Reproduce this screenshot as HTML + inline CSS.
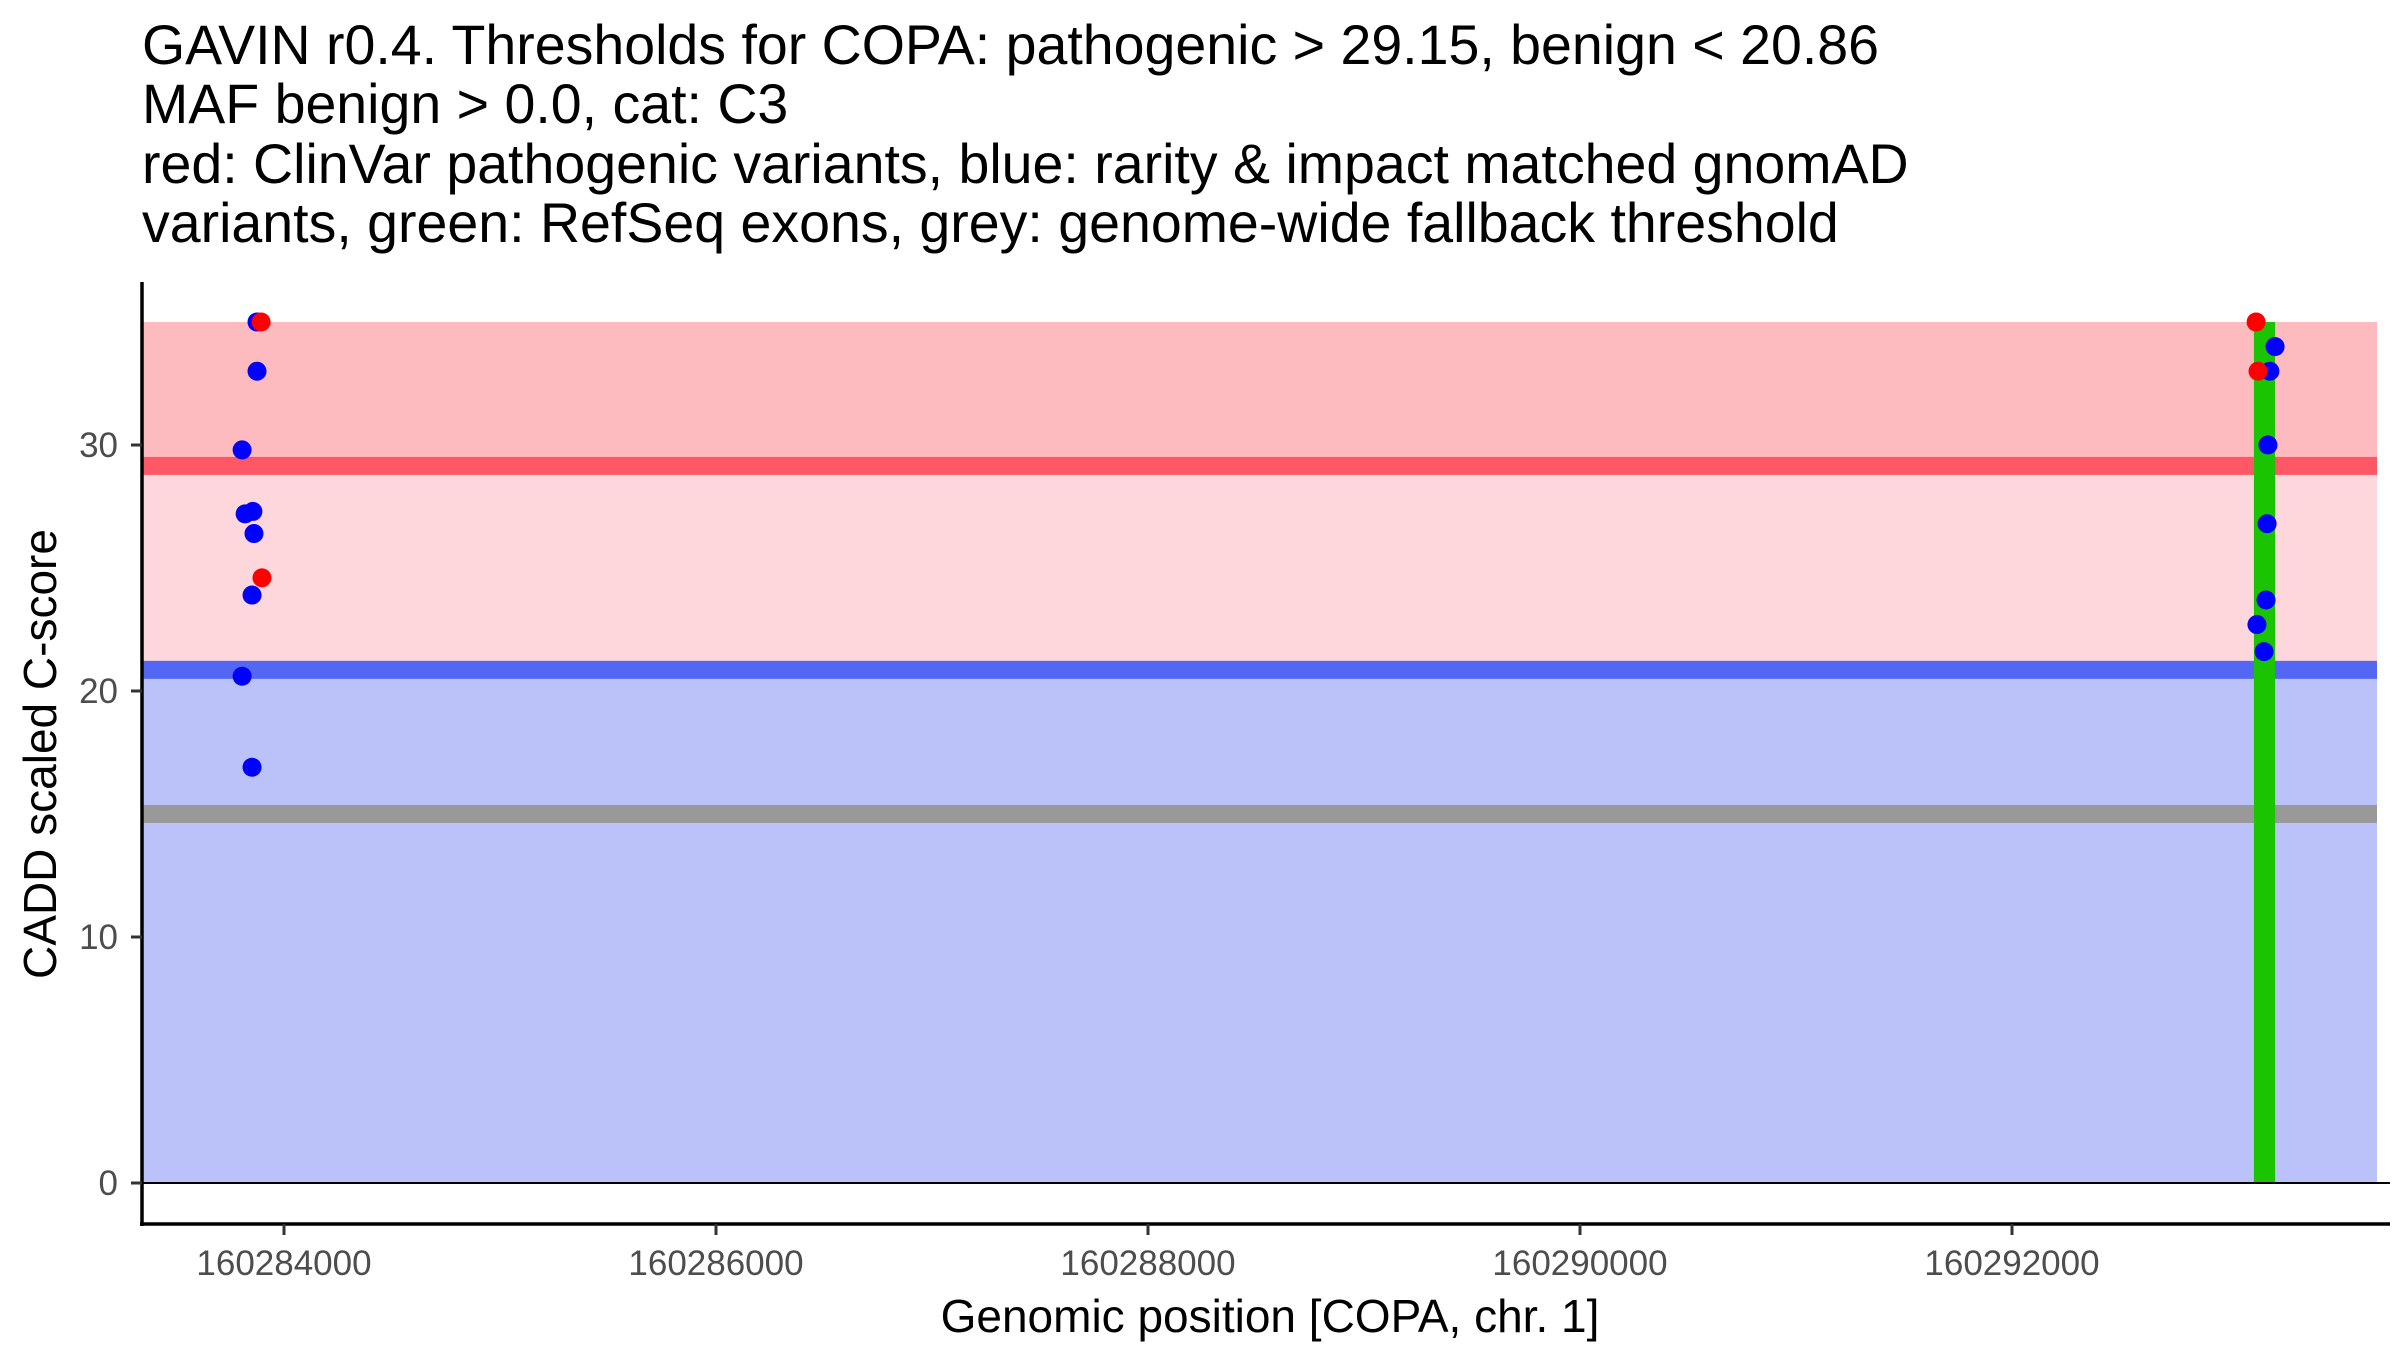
<!DOCTYPE html>
<html><head><meta charset="utf-8"><style>
html,body{margin:0;padding:0;background:#fff;}
svg{display:block;font-family:"Liberation Sans",Arial,sans-serif;}
</style></head><body>
<svg id="chart" width="2400" height="1350" viewBox="0 0 2400 1350" xmlns="http://www.w3.org/2000/svg">
<g font-size="55.5" fill="#000">
<text x="142" y="64">GAVIN r0.4. Thresholds for COPA: pathogenic &gt; 29.15, benign &lt; 20.86</text>
<text x="142" y="123">MAF benign &gt; 0.0, cat: C3</text>
<text x="142" y="183">red: ClinVar pathogenic variants, blue: rarity &amp; impact matched gnomAD</text>
<text x="142" y="242">variants, green: RefSeq exons, grey: genome-wide fallback threshold</text>
</g>
<g id="plot"></g>
</svg>
<script>
const xTicks = [160284000, 160286000, 160288000, 160290000, 160292000];
const yTicks = [0, 10, 20, 30];
const pathogenicThreshold = 29.15;
const benignThreshold = 20.86;
const fallbackThreshold = 15;
const maxScore = 35;
const exonStart = 160293120;
const exonEnd = 160293218;
const blueX = [160283875,160283875,160283806,160283820,160283856,160283861,160283852,160283806,160283852,160293218,160293194,160293185,160293181,160293176,160293134,160293167];
const blueY = [35,33,29.8,27.2,27.3,26.4,23.9,20.6,16.9,34,33,30,26.8,23.7,22.7,21.6];
const redX = [160283894,160283898,160293130,160293139];
const redY = [35,24.6,35,33];

const NS = "http://www.w3.org/2000/svg";
const X0 = 142, X1 = 2390, Y0 = 1183, PXU = 24.6;
function sx(g){ return 284 + (g - 160284000) * 432 / 2000; }
function sy(v){ return Y0 - v * PXU; }
const plot = document.getElementById('plot');
function mk(tag, attrs){ const e = document.createElementNS(NS, tag); for (const k in attrs) e.setAttribute(k, attrs[k]); plot.appendChild(e); return e; }

let e;
e = mk('rect',{x:X0,y:sy(maxScore),width:2377-X0,height:sy(pathogenicThreshold)-sy(maxScore),fill:'#fdbbc0'});
 
e = mk('rect',{x:X0,y:sy(pathogenicThreshold),width:2377-X0,height:sy(benignThreshold)-sy(pathogenicThreshold),fill:'#fed7dc'});
 
e = mk('rect',{x:X0,y:sy(benignThreshold),width:2377-X0,height:sy(0)-sy(benignThreshold),fill:'#bbc2f9'});
 
e = mk('rect',{x:X0,y:sy(pathogenicThreshold)-9,width:2377-X0,height:18,fill:'#fe5766'});
 
e = mk('rect',{x:X0,y:sy(benignThreshold)-9,width:2377-X0,height:18,fill:'#5466f4'});
 
e = mk('rect',{x:X0,y:sy(fallbackThreshold)-9,width:2377-X0,height:18,fill:'#999999'});
 
e = mk('rect',{x:sx(exonStart),y:sy(maxScore),width:sx(exonEnd)-sx(exonStart),height:sy(0)-sy(maxScore),fill:'#1ac400'});
 
e = mk('line',{x1:X0,x2:X1,y1:sy(0),y2:sy(0),stroke:'#000','stroke-width':2});
 

for (let i=0;i<blueX.length;i++){
  e = mk('circle',{cx:sx(blueX[i]),cy:sy(blueY[i]),r:9.5,fill:'#0000ff'});
   
}
for (let i=0;i<redX.length;i++){
  e = mk('circle',{cx:sx(redX[i]),cy:sy(redY[i]),r:9.5,fill:'#ff0000'});
   
}

e = mk('line',{x1:X0,x2:X0,y1:282,y2:1226,stroke:'#000','stroke-width':3.5});
 
e = mk('line',{x1:X0-2,x2:X1,y1:1224,y2:1224,stroke:'#000','stroke-width':3.5});
 

yTicks.forEach(v=>{
  e = mk('line',{x1:X0-11,x2:X0,y1:sy(v),y2:sy(v),stroke:'#333','stroke-width':3});
   
  e = mk('text',{x:X0-24,y:sy(v)+12,'text-anchor':'end','font-size':35,fill:'#4d4d4d'});
  e.textContent = v;
   
});
xTicks.forEach(v=>{
  e = mk('line',{x1:sx(v),x2:sx(v),y1:1224,y2:1235,stroke:'#333','stroke-width':3});
   
  e = mk('text',{x:sx(v),y:1275,'text-anchor':'middle','font-size':35,fill:'#4d4d4d'});
  e.textContent = v;
   
});
e = mk('text',{x:1270,y:1332,'text-anchor':'middle','font-size':46,fill:'#000'});
e.textContent = 'Genomic position [COPA, chr. 1]';
 
e = mk('text',{x:0,y:0,'text-anchor':'middle','font-size':46,fill:'#000',transform:'translate(56,754) rotate(-90)'});
e.textContent = 'CADD scaled C-score';
 
</script>
</body></html>
